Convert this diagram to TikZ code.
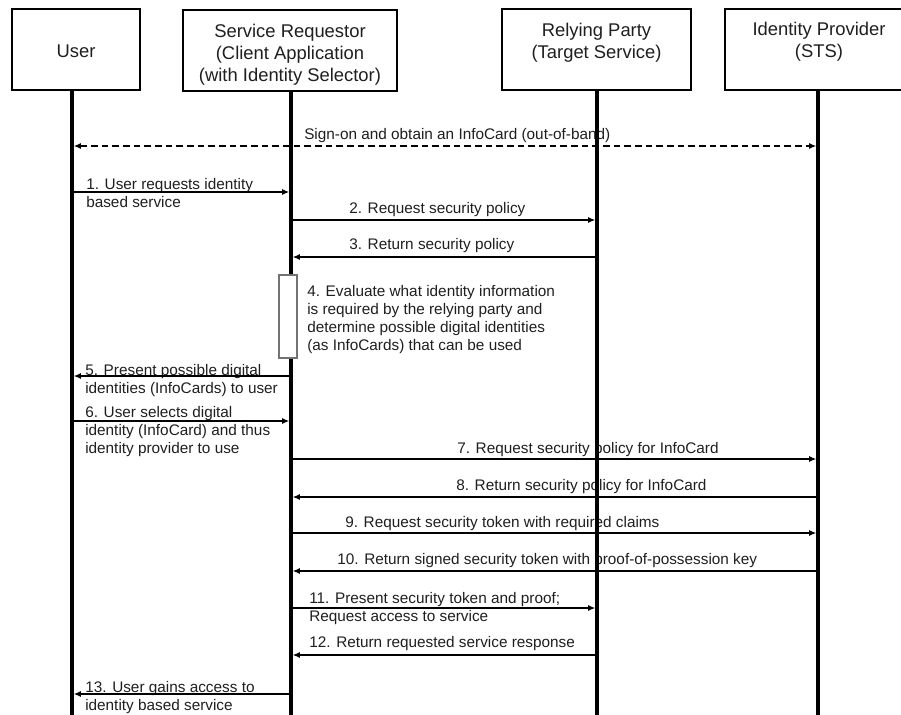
\documentclass[tikz,border=0pt]{standalone}
\usepackage{fontspec}
\setmainfont{Liberation Sans}
\usetikzlibrary{arrows.meta}
\newcommand\lblfont{\fontsize{11.5pt}{13.5pt}\selectfont}
\newcommand\hdrfont{\fontsize{13.8pt}{16.3pt}\selectfont}
\tikzset{
  actor/.style={draw=black, line width=1.5pt, rectangle, inner sep=0pt},
  hdr/.style={font=\hdrfont, align=center, anchor=base, inner sep=0pt, text=black!88},
  lbl/.style={font=\lblfont, align=left, anchor=base west, inner sep=0pt, text=black!88},
  life/.style={line width=2.3pt, black},
  msg/.style={line width=1.2pt, -{Latex[length=5.5pt,width=4.6pt]}, shorten >=1.2pt},
  oob/.style={line width=1.2pt, dash pattern=on 5pt off 3pt, {Latex[length=5.5pt,width=4.6pt]}-{Latex[length=5.5pt,width=4.6pt]}, shorten >=1.2pt, shorten <=1.2pt},
  actbox/.style={draw=black!55, line width=0.8pt, fill=white}
}
\begin{document}
\begin{tikzpicture}[x=0.75pt,y=-0.75pt]
\useasboundingbox (0,0) rectangle (901,715);
\clip (0,0) rectangle (901,715);
\fill[white] (0,0) rectangle (901,715);

% actor boxes
\node[actor, minimum width=96pt, minimum height=60.75pt] (user) at (76,49.5) {};
\node[actor, minimum width=160.5pt, minimum height=60.75pt] (sr) at (290,50.5) {};
\node[actor, minimum width=141.75pt, minimum height=60.75pt] (rp) at (596.5,49.5) {};
\node[actor, minimum width=139.5pt, minimum height=60.75pt] (idp) at (818,49.5) {};

% header texts (base = last line baseline)
\node[hdr] (userT) at (76,57.6) {User};
\node[hdr] (srT) at (290,81) {Service Requestor\\(Client Application\\(with Identity Selector)};
\node[hdr] (rpT) at (596.5,58.3) {Relying Party\\(Target Service)};
\node[hdr] (idpT) at (819,57.3) {Identity Provider\\(STS)};

% labels (base = last line baseline)
\node[lbl] (t0) at (304,139) {Sign-on and obtain an InfoCard (out-of-band)};
\node[lbl] (t1) at (86,207) {1. User requests identity\\based service};
\node[lbl] (t2) at (349,213) {2. Request security policy};
\node[lbl] (t3) at (349,249) {3. Return security policy};
\node[lbl] (t4) at (307,350) {4. Evaluate what identity information\\is required by the relying party and\\determine possible digital identities\\(as InfoCards) that can be used};
\node[lbl] (t5) at (85,393) {5. Present possible digital\\identities (InfoCards) to user};
\node[lbl] (t6) at (85,453) {6. User selects digital\\identity (InfoCard) and thus\\identity provider to use};
\node[lbl] (t7) at (457,453) {7. Request security policy for InfoCard};
\node[lbl] (t8) at (456,490) {8. Return security policy for InfoCard};
\node[lbl] (t9) at (345,527) {9. Request security token with required claims};
\node[lbl] (t10) at (337,564) {10. Return signed security token with proof-of-possession key};
\node[lbl] (t11) at (309,621) {11. Present security token and proof;\\Request access to service};
\node[lbl] (t12) at (309,647) {12. Return requested service response};
\node[lbl] (t13) at (85,710) {13. User gains access to\\identity based service};

% lifelines
\coordinate (uEnd) at (72,716);
\coordinate (sEnd) at (291,716);
\coordinate (rEnd) at (597,716);
\coordinate (iEnd) at (818,716);
\draw[life] (user.south -| uEnd) -- (uEnd);
\draw[life] (sr.south -| sEnd) -- (sEnd);
\draw[life] (rp.south -| rEnd) -- (rEnd);
\draw[life] (idp.south -| iEnd) -- (iEnd);

% messages
\coordinate (a0) at (72,146);  \coordinate (b0) at (818,146);
\draw[oob] (a0) -- (b0);
\coordinate (a1) at (72,192);  \coordinate (b1) at (291,192);
\draw[msg] (a1) -- (b1);
\coordinate (a2) at (291,220); \coordinate (b2) at (597,220);
\draw[msg] (a2) -- (b2);
\coordinate (a3) at (597,257); \coordinate (b3) at (291,257);
\draw[msg] (a3) -- (b3);
\node[actbox, minimum width=13.5pt, minimum height=62.25pt, inner sep=0pt] (act) at (288,316.5) {};
\coordinate (a5) at (291,376); \coordinate (b5) at (72,376);
\draw[msg] (a5) -- (b5);
\coordinate (a6) at (72,421);  \coordinate (b6) at (291,421);
\draw[msg] (a6) -- (b6);
\coordinate (a7) at (291,459); \coordinate (b7) at (818,459);
\draw[msg] (a7) -- (b7);
\coordinate (a8) at (818,497); \coordinate (b8) at (291,497);
\draw[msg] (a8) -- (b8);
\coordinate (a9) at (291,533); \coordinate (b9) at (818,533);
\draw[msg] (a9) -- (b9);
\coordinate (a10) at (818,571); \coordinate (b10) at (291,571);
\draw[msg] (a10) -- (b10);
\coordinate (a11) at (291,608); \coordinate (b11) at (597,608);
\draw[msg] (a11) -- (b11);
\coordinate (a12) at (597,655); \coordinate (b12) at (291,655);
\draw[msg] (a12) -- (b12);
\coordinate (a13) at (291,694); \coordinate (b13) at (72,694);
\draw[msg] (a13) -- (b13);
\end{tikzpicture}
\end{document}
